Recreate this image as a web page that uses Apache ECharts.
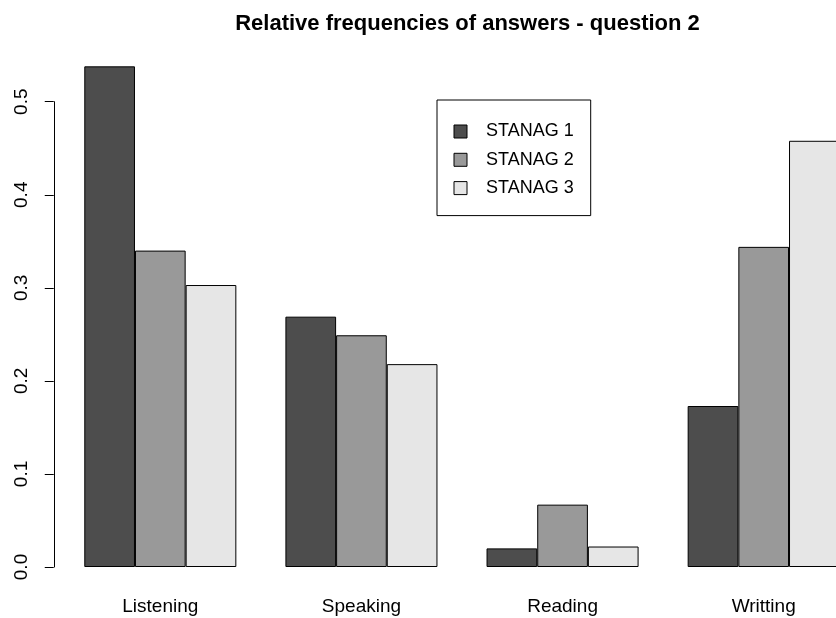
<!DOCTYPE html>
<html>
<head>
<meta charset="utf-8">
<script src="https://cdn.jsdelivr.net/npm/echarts@6/dist/echarts.min.js"></script>
<style>html,body{margin:0;padding:0;background:#fff;overflow:hidden;width:836px;height:618px}#c{width:880px;height:618px}</style>
</head>
<body>
<div id="c"></div>
<script>
const categories = ['Listening', 'Speaking', 'Reading', 'Writting'];
const seriesNames = ['STANAG 1', 'STANAG 2', 'STANAG 3'];
const stanag1 = [0.538, 0.269, 0.020, 0.173];
const stanag2 = [0.340, 0.249, 0.067, 0.344];
const stanag3 = [0.303, 0.218, 0.022, 0.458];
const yTicks = [0.0, 0.1, 0.2, 0.3, 0.4, 0.5];
const colors = ['#4d4d4d', '#999999', '#e6e6e6'];

const FONT = 'Liberation Sans, Arial, sans-serif';
const chart = echarts.init(document.getElementById('c'), null, {renderer: 'canvas'});
const values = [stanag1, stanag2, stanag3];
chart.setOption({
  animation: false,
  backgroundColor: '#ffffff',
  title: {
    text: 'Relative frequencies of answers - question 2',
    left: 462.5,
    textAlign: 'center',
    top: 8,
    textStyle: {fontFamily: FONT, fontSize: 22, fontWeight: 'bold', color: '#000'}
  },
  legend: {
    data: seriesNames,
    orient: 'vertical',
    left: 437,
    top: 100,
    borderColor: '#000',
    borderWidth: 1,
    borderRadius: 0,
    padding: [22.5, 17, 18.5, 16.5],
    itemWidth: 13,
    itemHeight: 13,
    itemGap: 10.3,
    icon: 'rect',
    itemStyle: {borderColor: '#000', borderWidth: 1},
    textStyle: {fontFamily: FONT, fontSize: 18, lineHeight: 18, color: '#000', padding: [0, 0, 0, 14]}
  },
  grid: {left: 59.75, width: 804.5, top: 101.7, bottom: 51, containLabel: false},
  xAxis: {
    type: 'category',
    data: categories,
    axisLine: {show: false},
    axisTick: {show: false},
    axisLabel: {fontFamily: FONT, fontSize: 19, color: '#000', margin: 30},
    splitLine: {show: false}
  },
  yAxis: {
    type: 'value',
    min: 0,
    max: 0.5,
    interval: 0.1,
    offset: 6,
    axisLine: {show: true, lineStyle: {color: '#000', width: 1}},
    axisTick: {show: true, length: 9, lineStyle: {color: '#000', width: 1}},
    axisLabel: {
      fontFamily: FONT, fontSize: 19, color: '#000', rotate: 90, margin: 22,
      formatter: v => yTicks.includes(Math.round(v * 10) / 10) ? v.toFixed(1) : ''
    },
    splitLine: {show: false}
  },
  series: seriesNames.map((name, i) => ({
    name: name,
    type: 'bar',
    data: values[i],
    barGap: '0%',
    barCategoryGap: '24.4%',
    clip: false,
    itemStyle: {color: colors[i], borderColor: '#000', borderWidth: 1}
  }))
});
</script>
</body>
</html>
